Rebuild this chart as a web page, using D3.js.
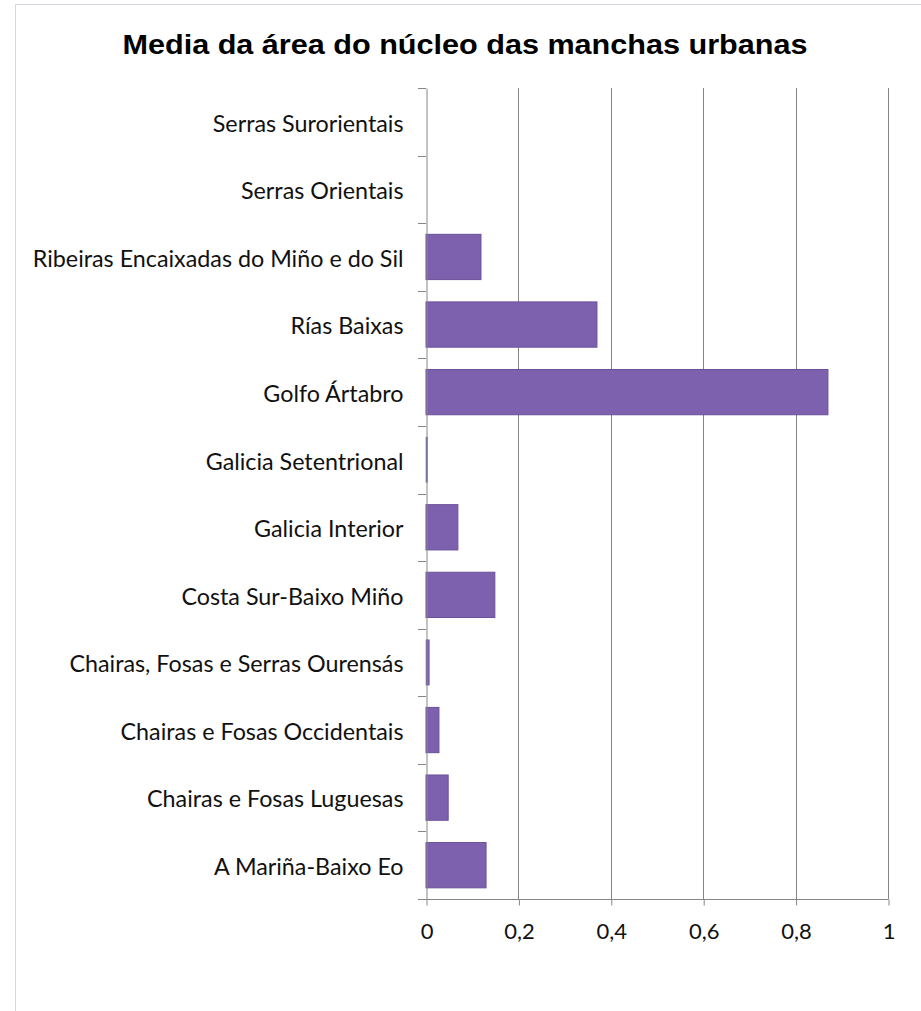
<!DOCTYPE html>
<html><head><meta charset="utf-8">
<script src="https://cdn.jsdelivr.net/npm/d3@7"></script>
<style>body{margin:0;background:#fff;} svg{display:block;}</style>
</head><body>
<script>
const categories = ["Serras Surorientais","Serras Orientais","Ribeiras Encaixadas do Miño e do Sil","Rías Baixas","Golfo Ártabro","Galicia Setentrional","Galicia Interior","Costa Sur-Baixo Miño","Chairas, Fosas e Serras Ourensás","Chairas e Fosas Occidentais","Chairas e Fosas Luguesas","A Mariña-Baixo Eo"];
const values = [0, 0, 0.119, 0.37, 0.87, 0.003, 0.069, 0.149, 0.007, 0.028, 0.048, 0.13];
const tickValues = [0, 0.2, 0.4, 0.6, 0.8, 1];
const tickLabels = ["0","0,2","0,4","0,6","0,8","1"];
const title = "Media da área do núcleo das manchas urbanas";

(function(){
const W = 921, H = 1011;
const svg = d3.select("body").append("svg").attr("width", W).attr("height", H);
svg.append("rect").attr("x", 15.5).attr("y", 4.5).attr("width", W).attr("height", H)
  .attr("fill", "#fff").attr("stroke", "#d8d4ec").attr("stroke-width", 1);

const pLeft = 426, pRight = 888, pTop = 88, pBottom = 899;
const x = d3.scaleLinear().domain([0, 1]).range([pLeft, pRight]);
const y = d3.scaleBand().domain(categories).range([pTop, pBottom]).paddingInner(0.33).paddingOuter(0.165);

svg.append("text").attr("x", 465).attr("y", 54).attr("text-anchor", "middle")
  .attr("font-family", "Liberation Sans, Arial, sans-serif").attr("font-weight", "bold")
  .attr("font-size", 28).attr("textLength", 685).attr("lengthAdjust", "spacingAndGlyphs")
  .attr("fill", "#000").text(title);

// gridlines
svg.append("g").selectAll("line").data(tickValues.slice(1)).join("line")
  .attr("x1", d => Math.round(x(d)) + 0.5).attr("x2", d => Math.round(x(d)) + 0.5)
  .attr("y1", pTop).attr("y2", pBottom).attr("stroke", "#868686").attr("stroke-width", 1);

// bars
svg.append("g").selectAll("rect").data(values).join("rect")
  .attr("x", x(0)).attr("y", (d, i) => y(categories[i]))
  .attr("width", d => x(d) - x(0)).attr("height", y.bandwidth())
  .attr("fill", "#7d61ae").attr("stroke", "#6a5098").attr("stroke-width", d => d > 0.01 ? 1 : 0.5);

// category axis
const yAxis = d3.axisLeft(y).tickSize(0).tickPadding(23).tickFormat(d => d);
const gy = svg.append("g").attr("transform", `translate(${pLeft + 0.5},0)`).call(yAxis);
gy.select(".domain").attr("stroke", "#868686");
gy.selectAll("text").attr("font-family", "Lato, Open Sans, sans-serif").attr("font-size", 23.3).attr("fill", "#111")
  .attr("dy", "0.42em");
// category boundary ticks
const bounds = categories.map(c => y(c) - y.step() * y.paddingInner() / 2);
bounds.push(pBottom);
svg.append("g").selectAll("line").data(bounds).join("line")
  .attr("x1", pLeft - 8).attr("x2", pLeft).attr("y1", d => Math.round(d) + 0.5).attr("y2", d => Math.round(d) + 0.5)
  .attr("stroke", "#868686");

// value axis
const xAxis = d3.axisBottom(x).tickValues(tickValues).tickSize(6).tickPadding(18)
  .tickFormat((d, i) => tickLabels[i]);
const gx = svg.append("g").attr("transform", `translate(0.5,${pBottom + 0.5})`).call(xAxis);
gx.select(".domain").attr("stroke", "#868686").attr("d", `M${pLeft - 8},0H${pRight}`);
gx.selectAll(".tick line").attr("stroke", "#868686");
gx.selectAll("text").attr("font-family", "Lato, Open Sans, sans-serif").attr("font-size", 22).attr("fill", "#111");
})();
</script>
</body></html>
